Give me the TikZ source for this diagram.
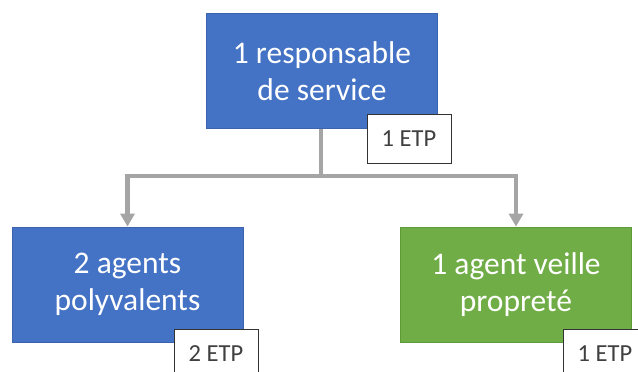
\documentclass[tikz,border=0pt]{standalone}
\usepackage{fontspec}
\setmainfont{Carlito}
\usetikzlibrary{arrows.meta}

\definecolor{posteBleu}{HTML}{4472C4}
\definecolor{posteBleuBord}{HTML}{3A64B0}
\definecolor{posteVert}{HTML}{70AD47}
\definecolor{posteVertBord}{HTML}{5E9A38}
\definecolor{lien}{HTML}{A5A5A5}
\definecolor{etpTexte}{HTML}{404040}

\begin{document}
\begin{tikzpicture}[x=1pt,y=-1pt,
		poste/.style={draw=posteBleuBord,fill=posteBleu,line width=0.8pt,
			minimum width=231pt,minimum height=115pt,inner sep=0pt,
			text=white,align=center,font=\fontsize{31.5}{37}\selectfont},
		etp/.style={draw=black!80,fill=white,line width=0.9pt,
			minimum width=84pt,minimum height=49pt,inner sep=0pt,
			text=etpTexte,font=\fontsize{24.5}{28}\selectfont},
		lien/.style={draw=lien,line width=4.5pt},
		fleche/.style={lien,-{Triangle[width=14pt,length=13pt]}}]
		\useasboundingbox (0,0) rectangle (638,372);
		\clip (0,0) rectangle (638,372);

		% postes
		\node[poste] (resp) at (322,71) {1 responsable\\de service};
		\node[poste] (agents) at (127.5,284.5) {2 agents\\polyvalents};
		\node[poste,fill=posteVert,draw=posteVertBord] (veille) at (516,284.5) {1 agent veille\\propreté};

		% effectifs
		\node[etp] (etpResp) at (409,138.5) {1 ETP};
		\node[etp] (etpAgents) at (216,353.5) {2 ETP};
		\node[etp] (etpVeille) at (605,353.5) {1 ETP};

		% liaisons
		\coordinate (jn) at (321,176);
		\draw[lien] (resp.south -| jn) -- (jn);
		\draw[fleche] (jn) -| (agents.north);
		\draw[fleche] (jn) -| (veille.north);
	\end{tikzpicture}
\end{document}
